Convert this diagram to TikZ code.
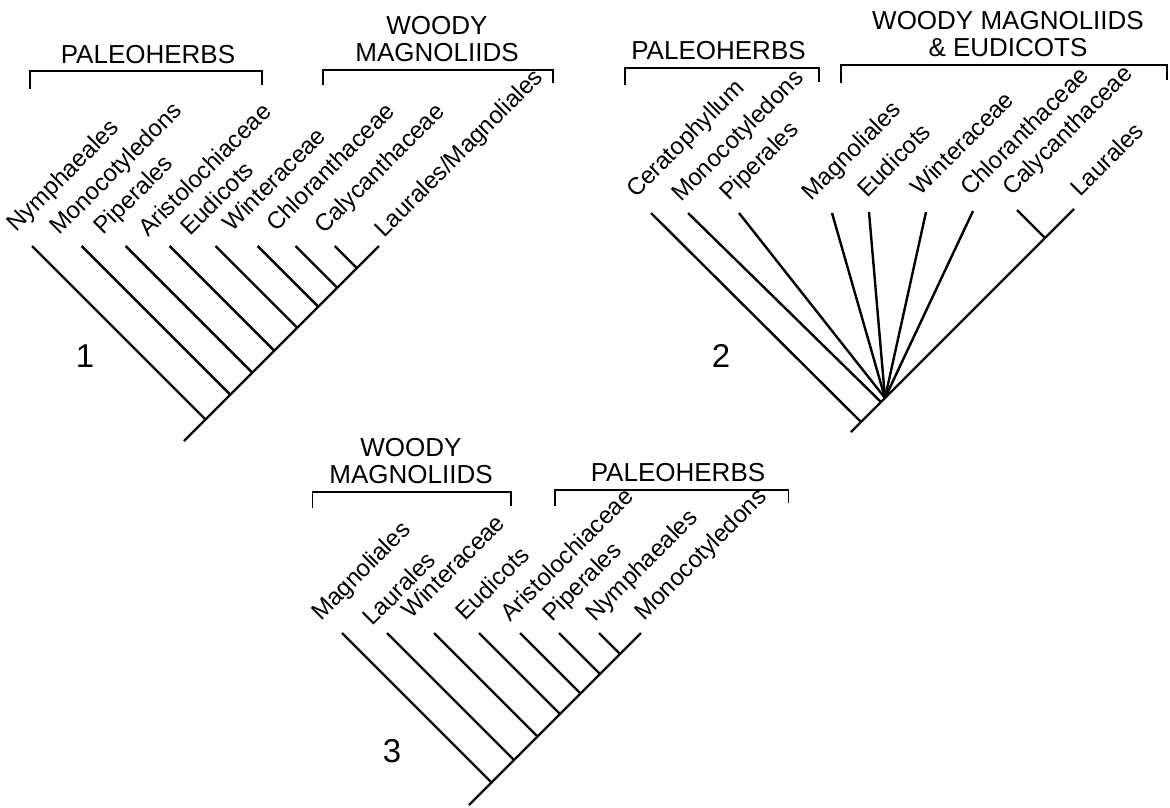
\documentclass[tikz,border=0pt]{standalone}
\usepackage{fontspec}
\setmainfont{Liberation Sans}
\begin{document}
\begin{tikzpicture}[x=1pt,y=-1pt,
  branch/.style={line width=2.4pt},
  bracket/.style={line width=1.8pt},
  taxon/.style={font=\fontsize{24}{24}\selectfont, rotate=45, anchor=base west, inner sep=0pt},
  clade/.style={font=\fontsize{26}{27.5}\selectfont, align=center, anchor=south, inner sep=0pt},
  treeno/.style={font=\fontsize{33}{33}\selectfont, inner sep=0pt}]
\useasboundingbox (0,0) rectangle (1170,807);

% ---------------- Tree 1 ----------------
\coordinate (r1) at (184,441);
\coordinate (t1lau) at (379,246);
\foreach \n/\x/\lx/\ly/\txt in {nym/32/16.6/233/Nymphaeales, mon/81.6/59.6/236/Monocotyledons,
    pip/125.6/103.5/236/Piperales, ari/169.7/148/238/Aristolochiaceae, eud/215.5/190/237/Eudicots,
    win/257.7/232/233/Winteraceae, chl/295.5/276/233/Chloranthaceae, cal/334.8/324/235/Calycanthaceae}{
  \pgfmathsetmacro\t{(379-\x)/2}
  \coordinate (t1\n) at (\x,246);
  \coordinate (j1\n) at (\x+\t,246+\t);
  \node[taxon] (l1\n) at (\lx,\ly) {\txt};
  \draw[branch] (t1\n) -- (j1\n);
}
\node[taxon] (l1lau) at (384,239) {Laurales/Magnoliales};
\draw[branch] (r1) -- (t1lau);
\node[treeno] (n1) at (85,356) {1};

\node[clade] (c1a) at (148,64) {PALEOHERBS};
\draw[bracket] (30,89) |- (262,71) -- (262,85);
\node[clade] (c1b) at (437,62) {WOODY\\MAGNOLIIDS};
\draw[bracket] (323,85) |- (553,70) -- (553,83);

% ---------------- Tree 2 ----------------
\coordinate (r2) at (851,432);
\coordinate (h2) at (885,398);
\coordinate (t2lau) at (1074,209);
\draw[branch] (r2) -- (t2lau);
\coordinate (t2cer) at (651,213);
\coordinate (j2cer) at (861,422);
\draw[branch] (t2cer) -- (j2cer);
\coordinate (t2mon) at (688,213);
\coordinate (j2mon) at (881,402);
\draw[branch] (t2mon) -- (j2mon);
\foreach \n/\x/\y in {pip/739/213, mag/832/213, eud/869/212, win/926/212, chl/973/211}{
  \coordinate (t2\n) at (\x,\y);
  \draw[branch] (t2\n) -- (h2);
}
\coordinate (t2cal) at (1017,210);
\coordinate (j2cal) at (1045,238);
\draw[branch] (t2cal) -- (j2cal);
\foreach \n/\lx/\ly/\txt in {cer/636/199/Ceratophyllum, mon/681/203/Monocotyledons, pip/729/202/Piperales,
    mag/811.5/202/Magnoliales, eud/867/199/Eudicots, win/920/197/Winteraceae,
    chl/970/197/Chloranthaceae, cal/1012/197/Calycanthaceae, lau/1080/198/Laurales}{
  \node[taxon] (l2\n) at (\lx,\ly) {\txt};
}
\node[treeno] (n2) at (721,356) {2};

\node[clade] (c2a) at (718.5,60) {PALEOHERBS};
\draw[bracket] (625,85) |- (819,68) -- (819,82);
\node[clade] (c2b) at (1008,57) {WOODY MAGNOLIIDS\\\& EUDICOTS};
\draw[bracket] (841,83) |- (1167,65) -- (1167,80);

% ---------------- Tree 3 ----------------
\coordinate (r3) at (469,805);
\coordinate (t3mon) at (641,633);
\foreach \n/\x/\lx/\ly/\txt in {mag/342/321/622/Magnoliales, lau/387/372/627/Laurales,
    win/434/411/620/Winteraceae, eud/479/465.5/622/Eudicots, ari/520/510/623/Aristolochiaceae,
    pip/559/552/623/Piperales, nym/599/595/623/Nymphaeales}{
  \pgfmathsetmacro\t{(641-\x)/2}
  \coordinate (t3\n) at (\x,633);
  \coordinate (j3\n) at (\x+\t,633+\t);
  \node[taxon] (l3\n) at (\lx,\ly) {\txt};
  \draw[branch] (t3\n) -- (j3\n);
}
\node[taxon] (l3mon) at (644,622) {Monocotyledons};
\draw[branch] (r3) -- (t3mon);
\node[treeno] (n3) at (392,751) {3};

\node[clade] (c3a) at (411,484) {WOODY\\MAGNOLIIDS};
\draw[bracket] (312.5,508) |- (511,492) -- (511,506);
\node[clade] (c3b) at (678,482) {PALEOHERBS};
\draw[bracket] (555,506) |- (788.5,490) -- (788.5,503);
\end{tikzpicture}
\end{document}
